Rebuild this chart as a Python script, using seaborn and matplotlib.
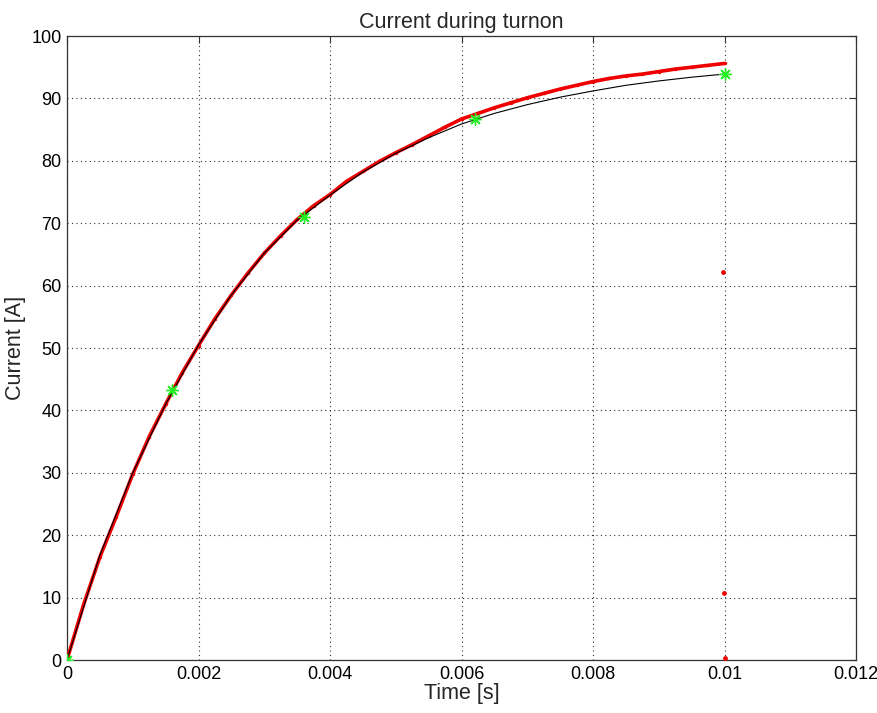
import numpy as np
import pandas as pd
import matplotlib
matplotlib.use("Agg")
import matplotlib.pyplot as plt
import seaborn as sns

# measured current (red dots)
meas_t = [0, 0.00025, 0.0005, 0.00075, 0.001, 0.00125, 0.0015, 0.00175, 0.002,
          0.00225, 0.0025, 0.00275, 0.003, 0.00325, 0.0035, 0.00375, 0.004,
          0.00425, 0.0045, 0.00475, 0.005, 0.00525, 0.0055, 0.00575, 0.006,
          0.00625, 0.0065, 0.00675, 0.007, 0.00725, 0.0075, 0.00775, 0.008,
          0.00825, 0.0085, 0.00875, 0.009, 0.00925, 0.0095, 0.00975, 0.01]
meas_i = [0, 8.8, 16.5, 23.0, 29.8, 35.8, 41.0, 46.0, 50.4,
          54.7, 58.5, 62.0, 65.2, 68.0, 70.6, 72.8, 74.6,
          76.7, 78.3, 79.9, 81.3, 82.6, 84.0, 85.4, 86.7,
          87.6, 88.5, 89.3, 90.1, 90.8, 91.5, 92.1, 92.7,
          93.2, 93.6, 93.9, 94.3, 94.7, 95.0, 95.3, 95.6]

# stray samples at turn-off
stray_t = [0.00998, 0.00999, 0.01]
stray_i = [62.2, 10.8, 0.3]

# fitted curve (black line)
fit_t = [0, 0.0005, 0.001, 0.0015, 0.002, 0.0025, 0.003, 0.0035, 0.004, 0.0045,
         0.005, 0.0055, 0.006, 0.0065, 0.007, 0.0075, 0.008, 0.0085, 0.009,
         0.0095, 0.01]
fit_i = [0, 16.8, 30.0, 41.0, 50.5, 58.5, 65.2, 70.5, 74.5, 78.2,
         81.2, 83.7, 85.9, 87.6, 89.0, 90.2, 91.2, 92.1, 92.8,
         93.4, 93.9]

# green sample markers
mark_t = [0, 0.0016, 0.0036, 0.0062, 0.01]
mark_i = [0, 43.3, 71.0, 86.7, 93.9]

xticks = [0, 0.002, 0.004, 0.006, 0.008, 0.01, 0.012]
xtick_labels = ["0", "0.002", "0.004", "0.006", "0.008", "0.01", "0.012"]
yticks = [0, 10, 20, 30, 40, 50, 60, 70, 80, 90, 100]

sns.set_style("white")
plt.rcParams['font.family'] = ['Liberation Sans', 'DejaVu Sans']

fig = plt.figure(figsize=(8.78, 7.13), dpi=100)
ax = fig.add_axes([0.0763, 0.0743, 0.8987, 0.8752])

meas = pd.DataFrame({"t": meas_t, "i": meas_i})
fit = pd.DataFrame({"t": fit_t, "i": fit_i})
marks = pd.DataFrame({"t": mark_t, "i": mark_i})
stray = pd.DataFrame({"t": stray_t, "i": stray_i})

sns.lineplot(data=meas, x="t", y="i", ax=ax, color="#ee0000", linewidth=2.6,
             marker="o", markersize=2.5, markeredgewidth=0, sort=False, zorder=3)
sns.lineplot(data=fit, x="t", y="i", ax=ax, color="black", linewidth=0.8,
             sort=False, zorder=4)
sns.scatterplot(data=stray, x="t", y="i", ax=ax, color="#ee0000", s=12,
                linewidth=0, zorder=5)
sns.scatterplot(data=marks, x="t", y="i", ax=ax, color="#22ee22", s=70,
                marker=(8, 2, 0), linewidth=1.0, zorder=6)

ax.set_xlim(0, 0.012)
ax.set_ylim(0, 100)
ax.set_xticks(xticks)
ax.set_xticklabels(xtick_labels)
ax.set_yticks(yticks)

ax.grid(True, linestyle=(0, (1, 3)), color="#333333", linewidth=0.8)
for s in ax.spines.values():
    s.set_color("#333333")
    s.set_linewidth(0.9)
    s.set_visible(True)
ax.tick_params(direction="in", length=5, width=0.8, color="#333333",
               top=True, right=True, labelsize=13, labelcolor="black", pad=4)

ax.set_xlabel("Time [s]", fontsize=15.5, labelpad=0)
ax.set_ylabel("Current [A]", fontsize=15.5, labelpad=4)
ax.set_title("Current during turnon", fontsize=15.5, pad=6)

fig.savefig("out.png", dpi=100, facecolor="white")
